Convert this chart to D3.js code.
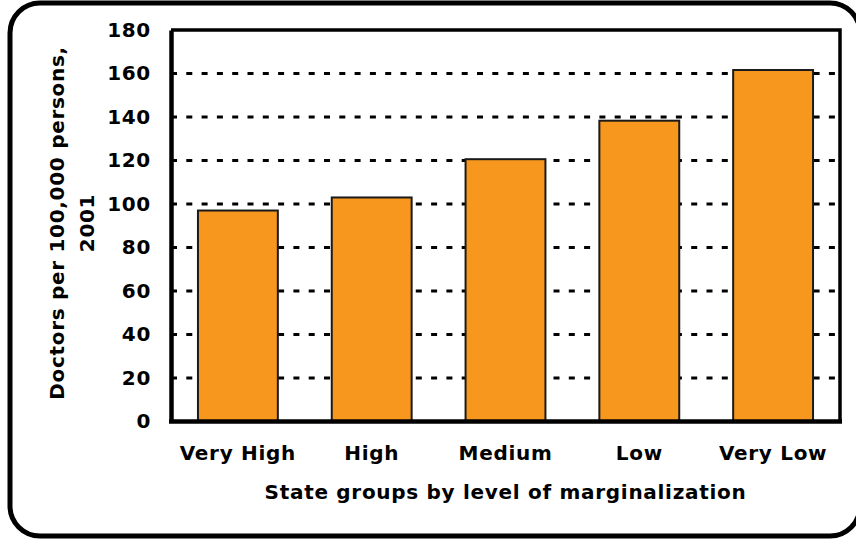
<!DOCTYPE html>
<html>
<head>
<meta charset="utf-8">
<script src="https://cdn.jsdelivr.net/npm/d3@7"></script>
<style>
  html, body { margin: 0; padding: 0; background: #fff; }
  svg text { font-family: "DejaVu Sans", Verdana, sans-serif; font-weight: bold; fill: #000; letter-spacing: 0.7px; }
</style>
</head>
<body>
<svg id="chart" width="856" height="540"></svg>
<script>
// Doctors per 100,000 persons (2001), by state marginalization group
const categories = ["Very High", "High", "Medium", "Low", "Very Low"];
const doctors = [97, 103, 120.6, 138.3, 161.6];
const yTicks = [0, 20, 40, 60, 80, 100, 120, 140, 160, 180];

const svg = d3.select("#chart");
const plot = { left: 171, right: 840, top: 30, bottom: 421.5 };
const fontSize = 20;

// Rounded outer frame
svg.append("rect")
  .attr("x", 10).attr("y", 3)
  .attr("width", 850).attr("height", 533)
  .attr("rx", 30).attr("ry", 30)
  .attr("fill", "#fff").attr("stroke", "#000").attr("stroke-width", 5);

const x = d3.scaleBand()
  .domain(categories)
  .range([plot.left, plot.right])
  .paddingInner(0.403)
  .paddingOuter(0.2015);

const y = d3.scaleLinear()
  .domain([0, 180])
  .range([plot.bottom, plot.top]);

// Dotted gridlines behind the bars
svg.append("g")
  .selectAll("line")
  .data(yTicks.filter(t => t > 0 && t < 180))
  .join("line")
  .attr("x1", plot.left).attr("x2", plot.right)
  .attr("y1", d => y(d)).attr("y2", d => y(d))
  .attr("stroke", "#000")
  .attr("stroke-width", 3)
  .attr("stroke-dasharray", "6,9.3");

// Bars
svg.append("g")
  .selectAll("rect")
  .data(categories.map((c, i) => ({ c, v: doctors[i] })))
  .join("rect")
  .attr("x", d => x(d.c))
  .attr("width", x.bandwidth())
  .attr("y", d => y(d.v))
  .attr("height", d => y(0) - y(d.v))
  .attr("fill", "#f7971e")
  .attr("stroke", "#1a1a1a")
  .attr("stroke-width", 2);

// Plot-area border (top and right)
svg.append("path")
  .attr("d", `M${plot.left},${plot.top}H${plot.right}V${plot.bottom}`)
  .attr("fill", "none").attr("stroke", "#000").attr("stroke-width", 3.5);

// Y axis
const yAxis = svg.append("g")
  .attr("transform", `translate(${plot.left},0)`)
  .call(d3.axisLeft(y).tickValues(yTicks).tickSize(0).tickPadding(20));
yAxis.select(".domain").attr("stroke", "#000").attr("stroke-width", 4.5);
yAxis.selectAll("text").attr("font-size", fontSize);

// X axis
const xAxis = svg.append("g")
  .attr("transform", `translate(0,${plot.bottom})`)
  .call(d3.axisBottom(x).tickSize(0).tickPadding(24));
xAxis.select(".domain").attr("stroke", "#000").attr("stroke-width", 4.5)
  .attr("d", `M${plot.left - 2},0H${plot.right + 2}`);
xAxis.selectAll("text").attr("font-size", fontSize);

// Axis titles
svg.append("text")
  .attr("x", (plot.left + plot.right) / 2)
  .attr("y", 499)
  .attr("text-anchor", "middle")
  .attr("font-size", fontSize)
  .text("State groups by level of marginalization");

const yTitle = svg.append("text")
  .attr("transform", "translate(0,223) rotate(-90)")
  .attr("text-anchor", "middle")
  .attr("font-size", fontSize);
yTitle.append("tspan").attr("x", 0).attr("y", 64).text("Doctors per 100,000 persons,");
yTitle.append("tspan").attr("x", 0).attr("y", 94).text("2001");
</script>
</body>
</html>
